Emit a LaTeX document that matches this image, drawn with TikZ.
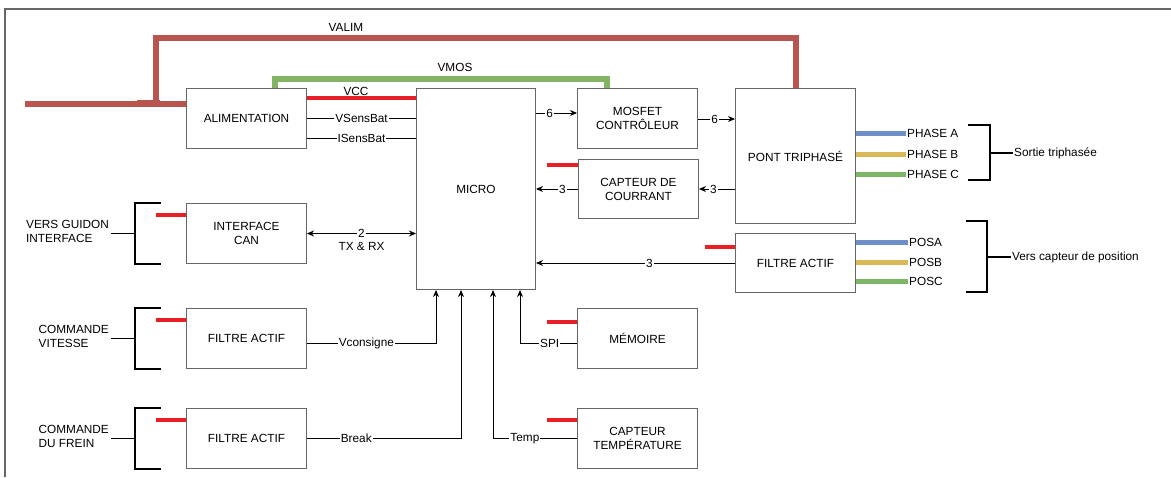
\documentclass[tikz,border=0pt]{standalone}
\usepackage{fontspec}
\setmainfont{Liberation Sans}
\usetikzlibrary{calc,positioning,arrows.meta}
\definecolor{valimred}{RGB}{185,85,80}
\definecolor{vmosgreen}{RGB}{130,180,100}
\definecolor{vccred}{RGB}{232,32,38}
\definecolor{phblue}{RGB}{110,143,200}
\definecolor{phyellow}{RGB}{217,184,87}
\definecolor{phgreen}{RGB}{125,182,101}

\begin{document}
\begin{tikzpicture}[
    x=1pt, y=-1pt,
    font=\fontsize{11.8}{14}\selectfont,
    bloc/.style={draw=black!60, line width=1pt, fill=white, minimum width=120pt, minimum height=60pt, align=center, inner sep=2pt, anchor=north west},
    fil/.style={draw=black, line width=0.9pt},
    arrow/.style={-{Stealth[length=7pt,width=6pt]}, line width=0.9pt, draw=black},
    tag/.style={fill=white, inner sep=1pt},
    rail/.style={line width=6pt},
    stub/.style={draw=vccred, line width=4pt},
    phase/.style={line width=5pt},
    bracket/.style={draw=black, line width=1.8pt},
    legend/.style={align=left, inner sep=1pt}
  ]
    \useasboundingbox (0,0) rectangle (1171,477);
    \draw[black!60, line width=1.2pt] (5,477) -- (5,9) -- (1171,9);

    % blocs
    \node[bloc] (alim) at (186,88) {ALIMENTATION};
    \node[bloc, minimum width=119pt, minimum height=201pt] (micro) at (416,88) {MICRO};
    \node[bloc] (mosfet) at (577,88) {MOSFET\\CONTRÔLEUR};
    \node[bloc, minimum height=135pt] (pont) at (735,88) {PONT TRIPHASÉ};
    \node[bloc, minimum height=59pt] (courant) at (578,159) {CAPTEUR DE\\COURRANT};
    \node[bloc, minimum height=59pt] (filtrepos) at (735,233) {FILTRE ACTIF};
    \node[bloc] (can) at (186,203) {INTERFACE\\CAN};
    \node[bloc] (filtrevit) at (186,308) {FILTRE ACTIF};
    \node[bloc] (filtrefrein) at (186,408) {FILTRE ACTIF};
    \node[bloc] (memoire) at (577,308) {MÉMOIRE};
    \node[bloc] (temp) at (577,408) {CAPTEUR\\TEMPÉRATURE};

    % alimentations
    \coordinate (entree) at (25,104);
    \coordinate (jonction) at (156,104);
    \draw[rail, valimred] (entree) -- (entree -| alim.west);
    \fill[valimred] (137,100) rectangle (160,107);
    \draw[rail, valimred] (jonction) |- ($(pont.north)+(0,-50)$) -- (pont.north);
    \node (valim) at (346,27) {VALIM};
    \draw[rail, vmosgreen, line width=5.5pt] ($(alim.north west)+(89,0)$) |- ($(mosfet.north west)+(30,-9)$) -- ($(mosfet.north west)+(30,0)$);
    \node (vmos) at (455,67) {VMOS};
    \draw[stub] ($(alim.north east)+(0,10)$) -- ($(micro.north west)+(0,10)$) node[pos=0.45, above, inner sep=0.5pt] (vcc) {VCC};

    % signaux
    \draw[fil] (alim.east) -- (alim.east -| micro.west) node[midway, tag] {VSensBat};
    \draw[fil] ($(alim.east)+(0,20)$) -- ($(alim.east -| micro.west)+(0,20)$) node[midway, tag] {ISensBat};
    \draw[arrow] ($(micro.north east)+(0,25)$) -- ($(mosfet.north west)+(0,25)$) node[pos=0.33, tag] {6};
    \draw[arrow] ($(mosfet.north east)+(0,31)$) -- ($(pont.north west)+(0,31)$) node[pos=0.45, tag] {6};
    \draw[arrow] (courant.east -| pont.west) -- (courant.east) node[pos=0.6, tag] {3};
    \draw[arrow] (courant.west) -- (courant.west -| micro.east) node[pos=0.37, tag] {3};
    \draw[arrow] (filtrepos.west) -- (filtrepos.west -| micro.east) node[pos=0.43, tag] {3};
    \draw[fil, {Stealth[length=7pt,width=6pt]}-{Stealth[length=7pt,width=6pt]}] (can.east) -- (can.east -| micro.west) node[midway, tag] {2} node[midway, below=5pt] (txrx) {TX \& RX};

    \draw[arrow] ($(filtrevit.east)+(0,5)$) -| ($(micro.south west)+(20,0)$) node[pos=0.23, tag] {Vconsigne};
    \draw[arrow] (filtrefrein.east) -| ($(micro.south west)+(45,0)$) node[pos=0.16, tag] {Break};
    \draw[arrow] (temp.west) -| ($(micro.south west)+(77,0)$) node[pos=0.31, tag] {Temp};
    \draw[arrow] ($(memoire.west)+(0,5)$) -| ($(micro.south west)+(104,0)$) node[pos=0.24, tag] {SPI};

    % VCC des blocs
    \draw[stub] ($(courant.north west)+(-31,6)$) -- ($(courant.north west)+(0,6)$);
    \draw[stub] ($(filtrepos.north west)+(-30,14)$) -- ($(filtrepos.north west)+(0,14)$);
    \draw[stub] ($(memoire.north west)+(-30,14)$) -- ($(memoire.north west)+(0,14)$);
    \foreach \b in {can,filtrevit,filtrefrein,temp}
      \draw[stub] ($(\b.north west)+(-30,12)$) -- ($(\b.north west)+(0,12)$);

    % entrees gauche
    \foreach \b in {can,filtrevit,filtrefrein}
      \draw[bracket] ($(\b.north west)+(-25,0)$) -- ($(\b.north west)+(-51,0)$) -- ($(\b.south west)+(-51,0)$) -- ($(\b.south west)+(-25,0)$);
    \node[legend, anchor=east, yshift=2pt] (guidon) at ($(can.west)+(-76,0)$) {VERS GUIDON\\INTERFACE};
    \node[legend, anchor=east, yshift=2pt] (vitesse) at ($(filtrevit.west)+(-76,0)$) {COMMANDE\\VITESSE};
    \node[legend, anchor=east, yshift=2pt] (frein) at ($(filtrefrein.west)+(-76,0)$) {COMMANDE\\DU FREIN};
    \draw[bracket] ($(can.west)+(-51,0)$) -- ($(can.west)+(-75,0)$);
    \draw[bracket] ($(filtrevit.west)+(-51,0)$) -- ($(filtrevit.west)+(-75,0)$);
    \draw[bracket] ($(filtrefrein.west)+(-51,0)$) -- ($(filtrefrein.west)+(-75,0)$);

    % sorties phases
    \node[legend, anchor=west] (phA) at (906,133) {PHASE A};
    \node[legend, anchor=west] (phB) at (906,154) {PHASE B};
    \node[legend, anchor=west] (phC) at (906,174) {PHASE C};
    \draw[phase, phblue] (phA.west -| pont.east) -- (phA.west);
    \draw[phase, phyellow] (phB.west -| pont.east) -- (phB.west);
    \draw[phase, phgreen] (phC.west -| pont.east) -- (phC.west);
    \node[legend, anchor=west] (sortie) at (1013,153) {Sortie triphasée};
    \draw[bracket] (968,125) -| (990,180) -- (968,180);
    \draw[bracket] (990,153) -- (sortie.west);

    % capteurs de position
    \node[legend, anchor=west] (posA) at (908,242) {POSA};
    \node[legend, anchor=west] (posB) at (908,262) {POSB};
    \node[legend, anchor=west] (posC) at (908,281) {POSC};
    \draw[phase, phblue] (posA.west -| filtrepos.east) -- (posA.west);
    \draw[phase, phyellow] (posB.west -| filtrepos.east) -- (posB.west);
    \draw[phase, phgreen] (posC.west -| filtrepos.east) -- (posC.west);
    \node[legend, anchor=west] (position) at (1011,257) {Vers capteur de position};
    \draw[bracket] (966,221) -| (987,292) -- (966,292);
    \draw[bracket] (987,257) -- (position.west);
\end{tikzpicture}
\end{document}
